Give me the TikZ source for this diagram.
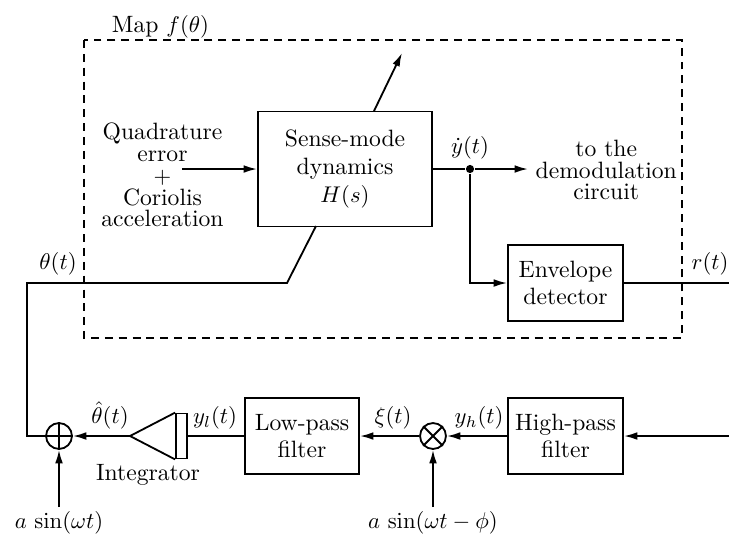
\documentclass[tikz,border=0pt]{standalone}
\usetikzlibrary{arrows.meta}
\begin{document}
\begin{tikzpicture}[x=0.44pt,y=0.44pt,yscale=-1,xscale=1,line width=0.8pt,
  font=\fontsize{10.4}{12.2}\selectfont,
  >={Latex[length=5.9pt,width=3.4pt]},
  block/.style={draw,align=center,inner sep=0pt},
  junct/.style={draw,circle,minimum size=11.4pt,inner sep=0pt},
  lbl/.style={inner sep=0.75pt,align=center},
  tight/.style={font=\fontsize{10.4}{9.6}\selectfont}]
\useasboundingbox (0,0) rectangle (729,539);

%Shape: Rectangle (map)
\draw [dash pattern={on 3.5pt off 2.6pt}] (84,40) rectangle (682,338);
% Text Node
\node (maplbl) [lbl] at (160.5,27) {Map $f(\theta)$};

%Shape: Rectangle (blocks)
\node (sense) [block,minimum width=76.6pt,minimum height=50.6pt] at (345,169) {Sense-mode\\dynamics\\$H(s)$};
\node (env) [block,minimum width=50.6pt,minimum height=33.4pt] at (565.5,283) {Envelope\\detector};
\node (lp) [block,minimum width=50.2pt,minimum height=33.4pt] at (302,436) {Low-pass\\filter};
\node (hp) [block,minimum width=50.6pt,minimum height=33.4pt] at (565.5,436) {High-pass\\filter};

%Shape: Circle (junctions)
\node (sum) [junct] at (59,436) {};
\draw (sum.north) -- (sum.south) (sum.west) -- (sum.east);
\node (mult) [junct] at (433,436) {};
\draw (mult.north west) -- (mult.south east) (mult.north east) -- (mult.south west);

%Shape: Integrator
\node (int) [draw,minimum width=4.8pt,minimum height=19.8pt,inner sep=0pt] at (181.5,436) {};
\coordinate (inttip) at (130,436);
\draw (int.north west) -- (inttip) -- (int.south west);

% Text Node
\node (quad) [lbl,tight] at (162.5,175) {Quadrature\\error\\$+$\\Coriolis\\acceleration};
\coordinate (qin) at (182,169);
\coordinate (ftop) at (374,111);
\coordinate (fout) at (402,53);
\node (split) [circle,fill,inner sep=0pt,minimum size=3.6pt] at (470,169) {};
\coordinate (demodin) at (528,169);
\node (demod) [lbl,tight,anchor=west] at (533,170) {to the\\demodulation\\circuit};
\coordinate (rout) at (729,283);
\coordinate (fbin) at (316,226);
\coordinate (fbknee) at (287,283);
\coordinate (fbcorner) at (27,283);
\coordinate (hpin) at (729,436);
\node (asin) [lbl] at (59,523) {$a\,\sin(\omega t)$};
\node (asinphi) [lbl] at (433,523) {$a\,\sin(\omega t-\phi)$};
\coordinate (asinup) at (59,507);
\coordinate (asinphiup) at (433,507);

%Straight Lines
\draw [->] (qin) -- (sense.west);
\draw [->] (ftop) -- (fout);
\draw (sense.east) -- (split);
\draw [->] (split) -- (demodin);
\draw [->] (split) |- (env.west);
\draw (env.east) -- (rout);
\draw [->] (hpin) -- (hp.east);
\draw [->] (hp.west) -- (mult.east);
\draw [->] (mult.west) -- (lp.east);
\draw (lp.west) -- (int.east);
\draw [->] (inttip) -- (sum.east);
\draw (sum.west) -| (fbcorner) -- (fbknee) -- (fbin);
\draw [->] (asinup) -- (sum.south);
\draw [->] (asinphiup) -- (mult.south);

% Text Node
\node (ydot) [lbl,anchor=south] at (470,162) {$\dot y(t)$};
\node (theta) [lbl,anchor=south] at (58,278) {$\theta(t)$};
\node (rlbl) [lbl,anchor=south] at (710,278) {$r(t)$};
\node (thetahat) [lbl,anchor=south] at (110,432) {$\hat\theta(t)$};
\node (yl) [lbl,anchor=south] at (215,432) {$y_l(t)$};
\node (xi) [lbl,anchor=south] at (393,432) {$\xi(t)$};
\node (yh) [lbl,anchor=south] at (479,432) {$y_h(t)$};
\node (intlbl) [lbl,anchor=north] at (148,462) {Integrator};
\end{tikzpicture}
\end{document}
